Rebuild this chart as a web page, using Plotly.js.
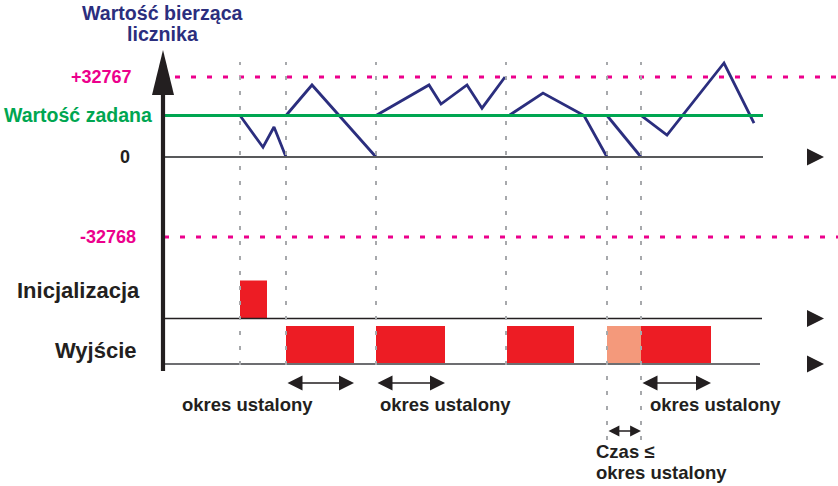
<!DOCTYPE html>
<html><head><meta charset="utf-8">
<script src="https://cdn.plot.ly/plotly-3.0.1.min.js"></script>
<style>html,body{margin:0;padding:0;background:#fff}#chart{width:838px;height:486px}</style>
</head><body><div id="chart"></div>
<script>
const W = 838, H = 486;
// counter levels
const MAXV = 32767, MINV = -32768, SETPOINT = 17000;
const levelVals = [MAXV, SETPOINT, 0, MINV];
const levelLabels = ['+32767', 'Wartość zadana', '0', '-32768'];
// counter trace (time, value); null separates segments
const countT = [240,263,274,286,null,286,312,376,null,376,429,441,467,482,505,null,509,543,584,607,null,607,641,null,641,667,724,754];
const countV = [17000,4000,12300,0,null,17000,29500,0,null,17000,29500,21700,29500,20000,32767,null,17000,26200,17000,0,null,17000,0,null,17000,9000,38500,13900];
// event instants (dashed markers)
const eventT = [240,286,376,506,607,641];
// signals
const initStart = [240], initEnd = [267];
const outStart = [286,376,507,641], outEnd = [354,445,574,711];
const pendStart = [607], pendEnd = [641];
const settleStart = [286,376,641], settleEnd = [354,445,711];
const shortStart = [607], shortEnd = [641];
const laneLabels = ['Inicjalizacja', 'Wyjście'];
const laneBase = [1.2, 0];
const spanLabel = 'okres ustalony';
const shortLabel1 = 'Czas ≤';
const titleLines = ['Wartość bierząca', 'licznika'];

const FONT = 'Liberation Sans, Arial, Helvetica, sans-serif';
const NAVY = '#2B2E7E', MAG = '#EC008C', GREEN = '#00A651', INK = '#231F20', RED = '#ED1C24', SALMON = '#F4997B';
const P = py => 1 - py / H;           // layout helper for decorations
const k = MAXV / 80;                  // counts per pixel
const yRange = [-(H - 157) * k, 157 * k];
const y2Range = [-(H - 364) / 38, 364 / 38];

const mid = (a, b) => a.map((s, i) => (s + b[i]) / 2);
const wid = (a, b) => a.map((s, i) => b[i] - s);

const traces = [
  {type:'bar', x: mid(initStart, initEnd), width: wid(initStart, initEnd), y: initStart.map(()=>1), base: initStart.map(()=>laneBase[0]),
   yaxis:'y2', marker:{color:RED, line:{width:0}}, hoverinfo:'skip'},
  {type:'bar', x: mid(outStart, outEnd), width: wid(outStart, outEnd), y: outStart.map(()=>1), base: outStart.map(()=>laneBase[1]),
   yaxis:'y2', marker:{color:RED, line:{width:0}}, hoverinfo:'skip'},
  {type:'bar', x: mid(pendStart, pendEnd), width: wid(pendStart, pendEnd), y: pendStart.map(()=>1), base: pendStart.map(()=>laneBase[1]),
   yaxis:'y2', marker:{color:SALMON, line:{width:0}}, hoverinfo:'skip'},
  {type:'scatter', mode:'lines', x: countT, y: countV, connectgaps:false, line:{color:NAVY, width:2.8}, hoverinfo:'skip'}
];

const shapes = [];
// horizontal reference lines
shapes.push({type:'line', xref:'x', yref:'y', x0:164, x1:763, y0:0, y1:0, line:{color:'#58595B', width:1.8}});
shapes.push({type:'line', xref:'x', yref:'y', x0:175, x1:838, y0:MAXV, y1:MAXV, line:{color:MAG, width:2.8, dash:'5px,11px'}});
shapes.push({type:'line', xref:'x', yref:'y', x0:164, x1:838, y0:MINV, y1:MINV, line:{color:MAG, width:2.8, dash:'5px,11px'}});
shapes.push({type:'line', xref:'x', yref:'y2', x0:164, x1:762, y0:laneBase[0], y1:laneBase[0], line:{color:INK, width:1.5}});
shapes.push({type:'line', xref:'x', yref:'y2', x0:164, x1:760, y0:laneBase[1], y1:laneBase[1], line:{color:'#6D6E71', width:2}});
// event dashed verticals
eventT.forEach((t, i) => shapes.push({type:'line', xref:'x', yref:'paper', x0:t, x1:t, y0:P(i >= 4 ? 440 : 365), y1:P(62),
  line:{color:'#A7A9AC', width:2, dash:'4px,11px'}, layer:'above'}));
// setpoint line
shapes.push({type:'line', xref:'x', yref:'y', x0:164, x1:763, y0:SETPOINT, y1:SETPOINT, line:{color:GREEN, width:3}});
// main vertical axis with arrow
shapes.push({type:'line', xref:'x', yref:'paper', x0:163, x1:163, y0:P(371), y1:P(92), line:{color:INK, width:4.2}});
shapes.push({type:'path', xref:'x', yref:'paper', path:`M152,${P(95)} L163,${P(50)} L174,${P(95)} Z`, fillcolor:INK, line:{width:0}});

const ann = [];
const txt = (text, x, y, size, color, xanchor, yref) => ({text:'<b>'+text+'</b>', x: x / W, xref:'paper', y, yref: yref || 'paper',
  xanchor, yanchor:'middle', showarrow:false, font:{family:FONT, size, color}});
ann.push(txt(titleLines[0], 163, P(13), 19.6, NAVY, 'center'));
ann.push(txt(titleLines[1], 163, P(34), 19.6, NAVY, 'center'));
const levelColors = [MAG, GREEN, INK, MAG];
const levelRight = [134, 154, 132, 138];
const levelSize = [18, 19.5, 18, 18];
levelVals.forEach((v, i) => ann.push(txt(levelLabels[i], levelRight[i], v, levelSize[i], levelColors[i], 'right', 'y')));
ann.push(txt(laneLabels[0], 142, P(290), 22, INK, 'right'));
ann.push(txt(laneLabels[1], 139, P(350), 22, INK, 'right'));
// span labels
const spanCenters = [248, 445, 715];
spanCenters.forEach(c => ann.push(txt(spanLabel, c, P(404), 18.5, INK, 'center')));
ann.push(txt(shortLabel1, 594, P(451), 18.5, INK, 'left'));
ann.push(txt(spanLabel, 594, P(472), 18.5, INK, 'left'));
// double arrows
const dbl = (x0, x1, py, size) => ({text:'', x:x1, xref:'x', ax:x0, axref:'x', y:P(py), yref:'paper', ay:0, ayref:'pixel',
  showarrow:true, arrowside:'end+start', arrowhead:2, startarrowhead:2, arrowsize:size, startarrowsize:size,
  arrowwidth:1.5, arrowcolor:INK, standoff:0, startstandoff:0});
settleStart.forEach((s, i) => ann.push(dbl(s, settleEnd[i], 383, 2)));
shortStart.forEach((s, i) => ann.push(dbl(s, shortEnd[i], 431, 1.45)));
// axis end triangles
const tri = (y, yref) => ({text:'', x:824, xref:'x', ax:808, axref:'x', y, yref, ay:0, ayref:'pixel', showarrow:true,
  arrowhead:2, arrowsize:2.27, arrowwidth:1.5, arrowcolor:INK, standoff:0});
ann.push(tri(0, 'y'));
ann.push(tri(laneBase[0], 'y2'));
ann.push(tri(laneBase[1], 'y2'));

const layout = {
  width: W, height: H, margin:{l:0, r:0, t:0, b:0}, paper_bgcolor:'#fff', plot_bgcolor:'#fff',
  showlegend:false, hovermode:false, barmode:'overlay',
  xaxis:{range:[0, W], visible:false, fixedrange:true},
  yaxis:{range:yRange, visible:false, fixedrange:true},
  yaxis2:{range:y2Range, visible:false, overlaying:'y', fixedrange:true},
  shapes, annotations: ann
};
Plotly.newPlot('chart', traces, layout, {staticPlot:true, displayModeBar:false});
</script></body></html>
